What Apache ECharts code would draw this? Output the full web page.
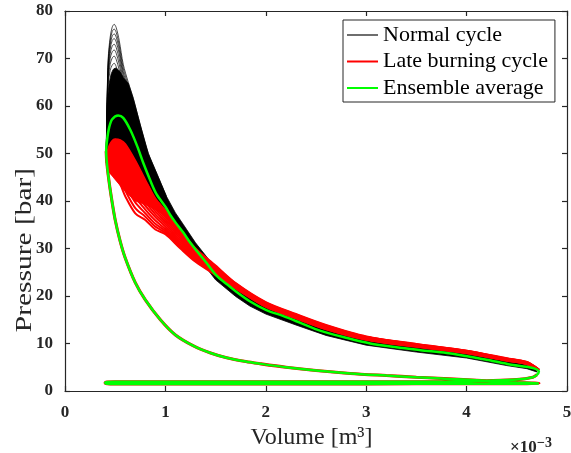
<!DOCTYPE html>
<html><head><meta charset="utf-8">
<script src="https://cdn.jsdelivr.net/npm/echarts@6/dist/echarts.min.js"></script>
<style>html,body{margin:0;padding:0;background:#fff}#c{width:571px;height:453px}</style>
</head><body><div id="c"></div>
<script>
// Ensemble average: compression (BDC -> TDC), combustion+expansion, gas exchange (volume in 1e-3 m^3, pressure in bar)
const compV = [4.72,4.5,4.3,4.1,3.83,3.5,3.2,2.84,2.5,2.2,1.94,1.8,1.61,1.45,1.28,1.1,0.95,0.8,0.7,0.6,0.55,0.5,0.46,0.43,0.415,0.41];
const compP = [1.6,1.8,2.0,2.25,2.55,2.9,3.25,3.7,4.3,5.0,5.75,6.2,7.0,8.0,9.5,11.8,15,19.2,22.8,28,31.5,36,41,45.5,48.5,50.5];
const expV = [0.42,0.44,0.47,0.53,0.58,0.65,0.72,0.78,0.85,0.91,1.0,1.05,1.1,1.18,1.245,1.3,1.4,1.51,1.6,1.7,1.84,2.0,2.17,2.35,2.54,2.8,3.04,3.3,3.54,3.8,3.93,4.2,4.43,4.6,4.68,4.72];
const expP = [53,55.5,57.2,58,57.5,55,51.5,48,44.3,41.5,38.8,37,35.5,33.3,31.3,29.8,27.2,24.3,22.7,21.0,18.9,17.1,15.8,14.3,12.7,11.2,10.0,9.2,8.6,8.0,7.6,6.6,5.6,5.1,4.7,4.1];
const gasV = [4.7,4.66,4.5,4.2,3.9,3.0,2.0,1.0,0.5,0.42,0.4,0.42,0.5,1.0,2.0,3.0,4.0,4.5,4.72];
const gasP = [3.4,2.9,2.4,2.15,2.0,1.95,1.95,1.95,1.95,1.9,1.75,1.55,1.5,1.5,1.5,1.5,1.55,1.55,1.6];

// Late burning cycles (common volume grid)
const redV = [0.42,0.45,0.5,0.55,0.6,0.7,0.8,0.9,1.0,1.15,1.3,1.5,1.7,2.0,2.3,2.6,3.0,3.5,4.0,4.4,4.6,4.72];
const red1  = [50,52,53,52.8,52,48.5,44.4,40.5,38.0,33.8,30.0,26.4,22.7,18.7,16.2,13.9,11.5,9.9,8.5,6.9,6.1,4.5];
const red2  = [49.6,51.6,52.4,52.2,51.2,47.6,43.6,40,37.5,33.5,29.8,26.2,22.6,18.6,16.1,13.8,11.4,9.85,8.45,6.85,6.1,4.5];
const red3  = [49.2,51.1,51.8,51.4,50.3,46.6,42.9,39.5,37.1,33.2,29.6,26.1,22.5,18.5,16.0,13.7,11.35,9.8,8.4,6.8,6.05,4.45];
const red4  = [48.8,50.6,51.1,50.6,49.4,45.7,42.2,39.0,36.6,32.9,29.3,26.0,22.4,18.4,15.9,13.6,11.3,9.75,8.35,6.75,6.0,4.45];
const red5  = [48.4,50.1,50.4,49.8,48.4,44.8,41.4,38.4,36.1,32.5,29.0,25.8,22.3,18.3,15.8,13.5,11.2,9.7,8.3,6.7,5.95,4.4];
const red6  = [48.1,49.6,49.7,48.9,47.4,43.8,40.6,37.8,35.6,32.1,28.7,25.6,22.2,18.2,15.7,13.45,11.15,9.65,8.25,6.65,5.9,4.4];
const red7  = [47.8,49.0,49.0,48.0,46.4,42.8,39.8,37.2,35.1,31.7,28.4,25.4,22.1,18.1,15.65,13.4,11.1,9.6,8.2,6.6,5.85,4.4];
const red8  = [47.5,48.4,48.2,47.1,45.4,41.8,39.0,36.6,34.6,31.3,28.2,25.2,22.0,18.0,15.55,13.3,11.0,9.5,8.15,6.55,5.8,4.35];
const red9  = [47.2,47.8,47.4,46.2,44.4,40.8,38.2,35.9,34.1,30.9,27.9,25.0,21.9,17.95,15.5,13.2,10.95,9.45,8.1,6.5,5.75,4.35];
const red10 = [47.0,47.2,46.6,45.3,43.3,39.7,37.4,35.2,33.7,30.5,27.6,24.8,21.8,17.85,15.4,13.15,10.9,9.4,8.05,6.45,5.7,4.3];
const red11 = [46.8,46.6,45.8,44.4,42.2,38.5,36.7,34.6,33.3,30.2,27.4,24.6,21.7,17.8,15.35,13.05,10.85,9.35,8.0,6.4,5.7,4.3];
const red12 = [46.5,46.0,45.0,43.5,41.0,37.4,36.0,34.0,33.0,30.0,27.2,24.4,21.6,17.7,15.3,13.0,10.8,9.3,7.95,6.35,5.65,4.3];
// Dense core of the late burning cycles (upper boundary then lower boundary)
const redCoreUpV = [0.415,0.42,0.44,0.47,0.5,0.55,0.6,0.7,0.8,0.9,1.0,1.15,1.3,1.5];
const redCoreUpP = [47.5,49.5,51.5,52.7,53,52.8,52,48.5,44.4,40.5,38.0,33.8,30.0,26.4];
const redCoreLoV = [1.5,1.3,1.15,1.0,0.9,0.8,0.7,0.6,0.5,0.45,0.42];
const redCoreLoP = [25.9,29.6,33.2,36.8,38.3,39.2,40.0,42.0,44.5,45.8,46.8];

// Normal cycles: highest individual cycles near the peak
const blkV = [0.41,0.42,0.43,0.45,0.47,0.49,0.51,0.54,0.58,0.63,0.68,0.75,0.83,0.92,1.01];
const blk1 = [49,62,70,74.5,76.6,77.2,76.5,73.8,68.8,65,61.6,56,50,45.5,41];
const blk2 = [49,61.5,69.3,73.7,75.7,76.2,75.5,72.8,68,64.3,61,55.5,49.6,45.2,40.8];
const blk3 = [49,61,68.6,72.9,74.7,75.2,74.5,71.9,67.2,63.6,60.4,55,49.2,44.9,40.6];
const blk4 = [49,60.5,67.9,72,73.8,74.2,73.5,71,66.5,62.9,59.8,54.5,48.8,44.6,40.4];
const blk5 = [49,60,67.1,71,72.6,73,72.3,69.9,65.6,62.1,59.1,54,48.4,44.3,40.2];
const blk6 = [49,59.5,66.3,70,71.4,71.8,71.1,68.8,64.7,61.3,58.4,53.5,48,44,40];
const blk7 = [49,59,65.5,68.8,70.1,70.5,69.8,67.6,63.7,60.4,57.6,52.9,47.6,43.7,39.8];
const blk8 = [49,58.5,64.5,67.5,68.6,69,68.3,66.3,62.6,59.5,56.8,52.3,47.2,43.4,39.6];
// Dense band of normal cycles (upper boundary then lower boundary)
const bandUpV = [0.41,0.412,0.415,0.42,0.43,0.44,0.46,0.48,0.5,0.52,0.55,0.58,0.63,0.68,0.75,0.83,0.92,1.01,1.1,1.18,1.3,1.51,1.7,2.0,2.3,2.6,3.0,3.5,4.0,4.4,4.6,4.7];
const bandUpP = [48,53,56,60,63,64.8,66.8,67.7,68,67.8,67.2,66,64.8,61.6,56,50,45.5,41,37.5,35,31.2,25.6,21.8,17.7,15.3,13.0,10.8,9.3,7.95,6.35,5.65,4.6];
const bandLoV = [4.7,4.6,4.4,4.0,3.5,3.0,2.6,2.3,2.0,1.84,1.7,1.5,1.35,1.2,1.05,0.9,0.75,0.6,0.5,0.45];
const bandLoP = [4.0,4.7,5.35,6.95,8.2,9.65,11.7,13.9,16.2,17.9,19.9,23.4,27.5,32,36,40,43.5,45.5,46.5,47.2];

const xTicks = [0,1,2,3,4,5];
const yTicks = [0,10,20,30,40,50,60,70,80];

function pairs(vs, ps){ return vs.map((v,i)=>[v, ps[i]]); }
function polySeries(name, z, color, upV, upP, loV, loP){
  return {
    type:'custom', name:name, silent:true, z:z, data:[[1,1]],
    renderItem:function(params, api){
      const pts = [];
      upV.forEach((v,i)=>pts.push(api.coord([v, upP[i]])));
      loV.forEach((v,i)=>pts.push(api.coord([v, loP[i]])));
      return {type:'polygon', shape:{points:pts}, style:{fill:color, stroke:color, lineWidth:0.8}};
    }
  };
}

const FONT = 'Liberation Serif';
const AX = '#262626';
const series = [];
[blk1,blk2,blk3,blk4,blk5,blk6,blk7,blk8].forEach((arr)=>{
  series.push({type:'line', name:'Normal cycle', data:pairs(blkV, arr), symbol:'none', smooth:0.3, z:2,
    lineStyle:{color:'#000', width:0.7}, itemStyle:{color:'#000'}});
});
series.push(polySeries('Normal cycle', 1, '#000', bandUpV, bandUpP, bandLoV, bandLoP));
series.push(polySeries('Late burning cycle', 3, '#ff0000', redCoreUpV, redCoreUpP, redCoreLoV, redCoreLoP));
// red underlay along shared parts of the loop
series.push({type:'line', name:'Late burning cycle', data:pairs(gasV.concat(compV), gasP.concat(compP)), symbol:'none', smooth:0.3, z:3,
  lineStyle:{color:'#ff0000', width:3.1}, itemStyle:{color:'#ff0000'}});
[red1,red2,red3,red4,red5,red6,red7,red8,red9,red10,red11,red12].forEach((arr)=>{
  series.push({type:'line', name:'Late burning cycle', data:pairs(redV, arr), symbol:'none', smooth:0.3, z:3,
    lineStyle:{color:'#ff0000', width:2.0}, itemStyle:{color:'#ff0000'}});
});
series.push({type:'line', name:'Ensemble average',
  data:pairs(compV.concat(expV, gasV), compP.concat(expP, gasP)), symbol:'none', smooth:0.3, z:4,
  lineStyle:{color:'#00ff00', width:2.5}, itemStyle:{color:'#00ff00'}});

const axCommonX = {type:'value', min:xTicks[0], max:xTicks[xTicks.length-1], interval:1};
const axCommonY = {type:'value', min:yTicks[0], max:yTicks[yTicks.length-1], interval:10};
const chart = echarts.init(document.getElementById('c'), null, {renderer:'canvas'});
chart.setOption({
  animation:false,
  backgroundColor:'#fff',
  grid:{left:65, right:4, top:11, bottom:62, outerBoundsMode:'none', containLabel:false},
  xAxis:[
    Object.assign({}, axCommonX, {position:'bottom', name:'Volume [m³]', nameLocation:'middle', nameGap:34,
      nameTextStyle:{fontFamily:FONT, fontSize:24, color:'#262626', padding:[0,9,0,0]},
      axisLine:{show:true, onZero:false, lineStyle:{color:AX, width:1.2}},
      axisTick:{show:true, inside:true, length:5, lineStyle:{color:AX, width:1.2}},
      axisLabel:{show:true, fontFamily:FONT, fontWeight:'bold', fontSize:17, color:'#262626', margin:13},
      splitLine:{show:false}}),
    Object.assign({}, axCommonX, {position:'top',
      axisLine:{show:true, onZero:false, lineStyle:{color:AX, width:1.2}},
      axisTick:{show:true, inside:true, length:5, lineStyle:{color:AX, width:1.2}},
      axisLabel:{show:false}, splitLine:{show:false}})
  ],
  yAxis:[
    Object.assign({}, axCommonY, {position:'left',
      axisLine:{show:true, onZero:false, lineStyle:{color:AX, width:1.2}},
      axisTick:{show:true, inside:true, length:5, lineStyle:{color:AX, width:1.2}},
      axisLabel:{show:true, fontFamily:FONT, fontWeight:'bold', fontSize:17, color:'#262626', margin:12},
      splitLine:{show:false}}),
    Object.assign({}, axCommonY, {position:'right',
      axisLine:{show:true, onZero:false, lineStyle:{color:AX, width:1.2}},
      axisTick:{show:true, inside:true, length:5, lineStyle:{color:AX, width:1.2}},
      axisLabel:{show:false}, splitLine:{show:false}})
  ],
  legend:{
    show:true, orient:'vertical', left:343, top:20,
    data:[
      {name:'Normal cycle', icon:'rect', itemStyle:{color:'#6e6e6e'}},
      {name:'Late burning cycle', icon:'rect', itemStyle:{color:'#ff0000'}},
      {name:'Ensemble average', icon:'rect', itemStyle:{color:'#00ff00'}}
    ],
    itemWidth:31, itemHeight:2, itemGap:4.5,
    padding:[4,7,3,4],
    borderColor:'#262626', borderWidth:1, backgroundColor:'#fff',
    textStyle:{fontFamily:FONT, fontSize:22, color:'#000', lineHeight:21},
    selectedMode:false
  },
  graphic:[
    {type:'text', x:25, y:250, rotation:Math.PI/2, scaleX:1.28, silent:true,
      style:{text:'Pressure [bar]', fontFamily:FONT, fontSize:23, fill:'#262626', align:'center', verticalAlign:'middle'}},
    {type:'text', x:510, y:456, silent:true,
      style:{text:'×10', fontFamily:FONT, fontWeight:'bold', fontSize:17, fill:'#262626', align:'left', verticalAlign:'bottom'}},
    {type:'text', x:537, y:450, silent:true,
      style:{text:'−3', fontFamily:FONT, fontWeight:'bold', fontSize:14, fill:'#262626', align:'left', verticalAlign:'bottom'}}
  ],
  series:series
});
</script></body></html>
